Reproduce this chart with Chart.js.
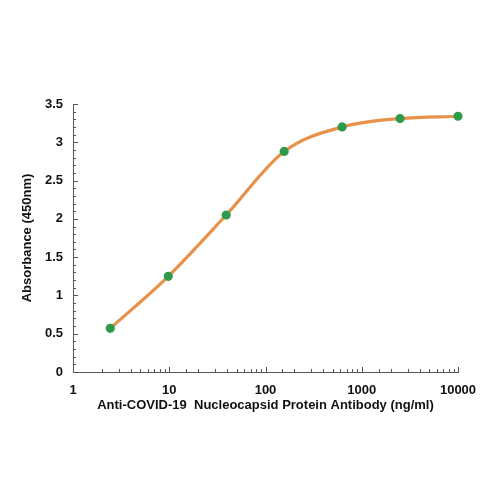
<!DOCTYPE html>
<html>
<head>
<meta charset="utf-8">
<script src="https://cdn.jsdelivr.net/npm/chart.js@4"></script>
<style>
  html, body { margin: 0; padding: 0; background: #fff; }
  #wrap { width: 500px; height: 500px; }
</style>
</head>
<body>
<div id="wrap"><canvas id="myChart" width="500" height="500"></canvas></div>
<script>
// antibody concentration (ng/ml), 4-fold dilution
const concentration = [2.44, 9.77, 39.06, 156.25, 625, 2500, 10000];
const absorbance = [0.57, 1.25, 2.05, 2.88, 3.20, 3.31, 3.34];

const xTitle = 'Anti-COVID-19  Nucleocapsid Protein Antibody (ng/ml)';
const yTitle = 'Absorbance (450nm)';

const axisFont = { family: '"Liberation Sans", Arial, sans-serif', size: 13, weight: 'bold' };

// small tick marks drawn inside the plot, like the original
const innerTicks = {
    id: 'innerTicks',
    afterDraw(chart) {
        const ctx = chart.ctx;
        const x = chart.scales.x;
        const y = chart.scales.y;
        ctx.save();
        ctx.strokeStyle = '#555';
        ctx.lineWidth = 1;
        ctx.beginPath();
        x.ticks.forEach(t => {
            const px = Math.round(x.getPixelForValue(t.value)) + 0.5;
            const len = t.label ? 5 : 3;
            ctx.moveTo(px, x.top);
            ctx.lineTo(px, x.top - len);
        });
        y.ticks.forEach(t => {
            const py = Math.round(y.getPixelForValue(t.value)) + 0.5;
            const len = t.label ? 5 : 3;
            ctx.moveTo(y.right, py);
            ctx.lineTo(y.right + len, py);
        });
        ctx.stroke();
        ctx.restore();
    }
};

new Chart(document.getElementById('myChart'), {
    type: 'line',
    data: {
        datasets: [{
            data: concentration.map((c, i) => ({ x: c, y: absorbance[i] })),
            borderColor: '#E8914A',
            borderWidth: 3.2,
            backgroundColor: '#2E9A4C',
            pointBackgroundColor: '#2E9A4C',
            pointBorderColor: '#2E9A4C',
            pointRadius: 3,
            cubicInterpolationMode: 'monotone',
            clip: false
        }]
    },
    options: {
        responsive: false,
        animation: false,
        layout: { padding: { left: 16, top: 104, right: 42, bottom: 83 } },
        plugins: {
            legend: { display: false },
            tooltip: { enabled: false }
        },
        scales: {
            x: {
                type: 'logarithmic',
                min: 1,
                max: 10000,
                grid: { display: false, drawTicks: false },
                border: { display: true, color: '#555', width: 1 },
                ticks: {
                    color: '#111',
                    font: axisFont,
                    padding: 11,
                    autoSkip: false,
                    maxRotation: 0,
                    callback: v => Number.isInteger(Math.log10(v)) ? String(v) : ''
                },
                title: { display: true, text: xTitle, color: '#111', font: axisFont },
                afterFit: s => { s.height = 45; }
            },
            y: {
                min: 0,
                max: 3.5,
                grid: { display: false, drawTicks: false },
                border: { display: true, color: '#555', width: 1 },
                ticks: {
                    stepSize: 0.1,
                    autoSkip: false,
                    color: '#111',
                    font: axisFont,
                    padding: 10,
                    callback: v => {
                        const r = Math.round(v * 10);
                        return r % 5 === 0 ? String(r / 10) : '';
                    }
                },
                title: { display: true, text: yTitle, color: '#111', font: axisFont },
                afterFit: s => { s.width = 57; }
            }
        }
    },
    plugins: [innerTicks]
});
</script>
</body>
</html>
